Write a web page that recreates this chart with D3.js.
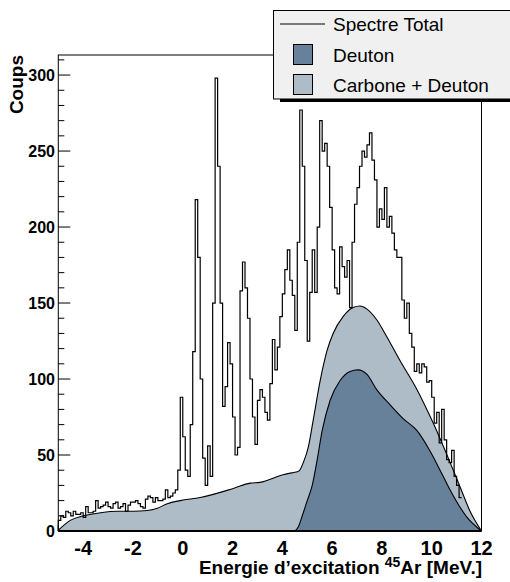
<!DOCTYPE html>
<html>
<head>
<meta charset="utf-8">
<script src="https://cdn.jsdelivr.net/npm/d3@7"></script>
<style>
  html, body { margin: 0; padding: 0; background: #fff; }
  svg { display: block; }
  text { font-family: "Liberation Sans", Arial, Helvetica, sans-serif; }
</style>
</head>
<body>
<svg id="chart" width="510" height="582"></svg>
<script>
// ---------------- DATA ----------------
const binStart = -5.0;
const binWidth = 0.1;
// Spectre Total: counts per 0.1 MeV bin, from -5.0 MeV
const totalCounts = [
  7,10,9,13,12,10,13,11,11,12, 9,16,12,12,13,20,15,16,17,19,
  16,15,18,19,15,16,18,13,17,19, 19,20,18,16,15,21,23,22,19,22,
  20,20,21,27,22,23,25,27,40,88,
  62,40,36,70,118,218,180,100,48,30,
  56,36,150,298,240,150,82,95,124,110,
  75,50,55,158,177,160,140,100,75,57,
  86,93,88,78,73,97,126,106,121,141,
  156,172,185,165,155,132,190,277,240,178,
  125,157,185,157,200,270,250,255,240,213,
  185,160,156,187,174,167,178,147,190,215,
  226,240,250,246,254,262,244,231,200,212,
  205,226,200,207,196,185,180,180,152,140,
  150,130,121,105,110,104,110,108,98,99,
  88,71,78,58,80,60,47,45,53,36,
  30,22
];
// Carbone + Deuton (smooth curve)
const carbonX = [-5.0,-4.52,-4.0,-3.31,-2.63,-1.99,-1.43,-1.02,-0.62,-0.1,0.7,2.03,2.71,3.1,4.03,4.45,4.6,4.72,4.84,5.04,5.24,5.52,5.8,6.04,6.44,6.84,7.12,7.4,7.79,8.19,8.73,9.41,10.06,10.74,11.14,11.54,12.0];
const carbonY = [0.5,7,10,12,13,13,13.5,15,18,20,22,28,31.5,32,37,38.5,39,40.5,45,55,73,99,119,130,141,147,148,146,139,128,112,93,71,45,29,13,0];
// Deuton (smooth curve)
const deutonX = [4.5,4.65,4.8,5.0,5.2,5.4,5.6,5.92,6.32,6.72,7.04,7.4,7.79,8.33,8.85,9.41,9.92,10.46,10.74,11.42,12.0];
const deutonY = [0,3,10,20,30,47,66,86,99,105,106,103,93,83,74,66,53,36,27,9,0];

const xMajorTicks = [-4,-2,0,2,4,6,8,10,12];
const yMajorTicks = [0,50,100,150,200,250,300];
const legendLabels = ["Spectre Total","Deuton","Carbone + Deuton"];
const xTitle = "Energie d\u2019excitation ";
const xTitleSup = "45";
const xTitleEnd = "Ar [MeV.]";
const yTitle = "Coups";

// ---------------- LAYOUT ----------------
const L = 58.3, R = 481.5, T = 55, B = 531;
const colLight = "#aebcc8", colDark = "#67819a";

const svg = d3.select("#chart");
const x = d3.scaleLinear().domain([-5, 12]).range([L, R]);
const y = d3.scaleLinear().domain([0, 313.2]).range([B, T]);

// x ticks (drawn below fills)
const xMinor = d3.range(-5, 12.001, 0.5);
svg.append("g").selectAll("line.xm").data(xMinor).join("line")
  .attr("x1", d => x(d)).attr("x2", d => x(d))
  .attr("y1", B).attr("y2", d => B - (xMajorTicks.includes(d) ? 12 : 6))
  .attr("stroke", "#000").attr("stroke-width", 1);

// y ticks
const yMinor = d3.range(0, 311, 10);
svg.append("g").selectAll("line.ym").data(yMinor).join("line")
  .attr("x1", L).attr("x2", d => L + (d % 50 === 0 ? 12 : 6))
  .attr("y1", d => y(d)).attr("y2", d => y(d))
  .attr("stroke", "#000").attr("stroke-width", 1);

// fills
const carbonPts = carbonX.map((v, i) => [v, carbonY[i]]);
const deutonPts = deutonX.map((v, i) => [v, deutonY[i]]);
const area = d3.area().x(d => x(d[0])).y0(y(0)).y1(d => y(d[1])).curve(d3.curveMonotoneX);
const line = d3.line().x(d => x(d[0])).y(d => y(d[1])).curve(d3.curveMonotoneX);

svg.append("path").datum(carbonPts).attr("d", area).attr("fill", colLight);
svg.append("path").datum(carbonPts).attr("d", line).attr("fill", "none").attr("stroke", "#000").attr("stroke-width", 1.1);
svg.append("path").datum(deutonPts).attr("d", area).attr("fill", colDark);
svg.append("path").datum(deutonPts).attr("d", line).attr("fill", "none").attr("stroke", "#000").attr("stroke-width", 1.1);

// histogram (step)
let p = d3.path();
p.moveTo(x(binStart), y(0));
totalCounts.forEach((c, i) => {
  const x0 = binStart + i * binWidth, x1 = x0 + binWidth;
  p.lineTo(x(x0), y(c));
  p.lineTo(x(x1), y(c));
});
svg.append("path").attr("d", p.toString()).attr("fill", "none")
  .attr("stroke", "#000").attr("stroke-width", 1.2);

// frame
svg.append("rect").attr("x", L).attr("y", T).attr("width", R - L).attr("height", B - T)
  .attr("fill", "none").attr("stroke", "#000").attr("stroke-width", 1);
svg.append("line").attr("x1", L).attr("x2", R).attr("y1", B).attr("y2", B)
  .attr("stroke", "#000").attr("stroke-width", 2);

// tick labels
svg.append("g").selectAll("text").data(xMajorTicks).join("text")
  .attr("x", d => x(d)).attr("y", 555).attr("text-anchor", "middle")
  .attr("font-size", 20).attr("font-weight", "bold").text(d => d);
svg.append("g").selectAll("text").data(yMajorTicks).join("text")
  .attr("x", 55).attr("y", d => y(d)).attr("dy", "0.36em").attr("text-anchor", "end")
  .attr("font-size", 16).attr("font-weight", "bold").text(d => d);

// axis titles
const xt = svg.append("text").attr("x", 482).attr("y", 574).attr("text-anchor", "end")
  .attr("font-size", 19).attr("font-weight", "bold");
xt.append("tspan").text(xTitle);
xt.append("tspan").attr("font-size", 14).attr("dy", -7).text(xTitleSup);
xt.append("tspan").attr("dy", 7).text(xTitleEnd);

svg.append("text").attr("transform", "translate(23,55) rotate(-90)")
  .attr("text-anchor", "end").attr("font-size", 19).attr("font-weight", "bold").text(yTitle);

// legend
const lg = svg.append("g");
lg.append("rect").attr("x", 280).attr("y", 16).attr("width", 240).attr("height", 86).attr("fill", "#000");
lg.append("rect").attr("x", 273.5).attr("y", 10.5).attr("width", 240).attr("height", 88.5)
  .attr("fill", "#f0f0f0").attr("stroke", "#000").attr("stroke-width", 1);
lg.append("line").attr("x1", 280).attr("x2", 325).attr("y1", 24).attr("y2", 24)
  .attr("stroke", "#000").attr("stroke-width", 1.2);
lg.append("rect").attr("x", 293.5).attr("y", 44.5).attr("width", 19).attr("height", 20)
  .attr("fill", colDark).attr("stroke", "#000").attr("stroke-width", 1);
lg.append("rect").attr("x", 293.5).attr("y", 74.5).attr("width", 19).attr("height", 20)
  .attr("fill", colLight).attr("stroke", "#000").attr("stroke-width", 1);
const ly = [31, 61.5, 91.5];
lg.selectAll("text").data(legendLabels).join("text")
  .attr("x", 333).attr("y", (d, i) => ly[i]).attr("font-size", 19).text(d => d);
</script>
</body>
</html>
